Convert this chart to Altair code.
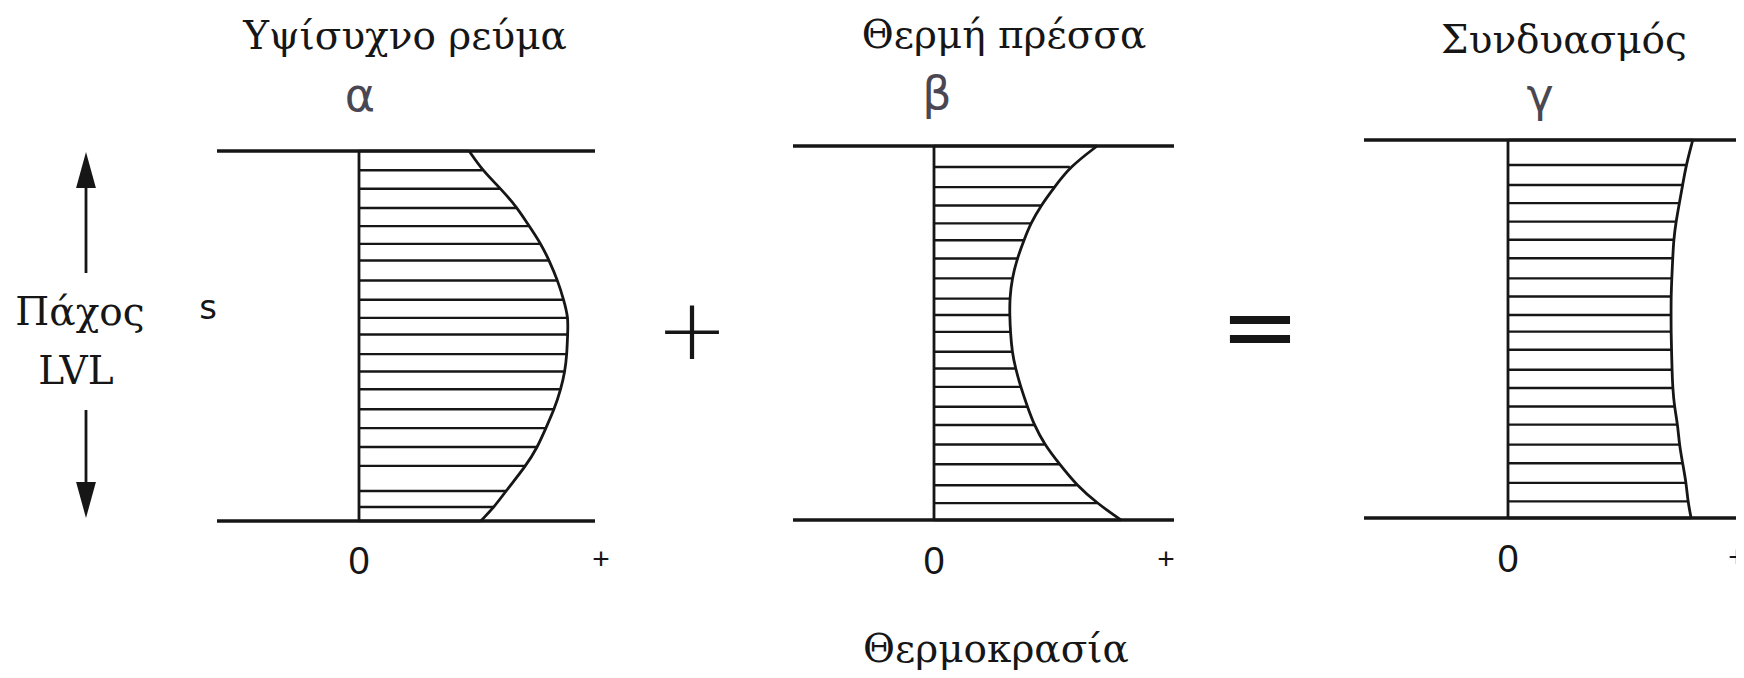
import altair as alt
import pandas as pd

# ---------------- content ----------------
panel_titles = ["Υψίσυχνο ρεύμα", "Θερμή πρέσσα", "Συνδυασμός"]
panel_letters = ["α", "β", "γ"]
tick_labels = ["0", "+"]
x_axis_title = "Θερμοκρασία"
y_axis_title = ["Πάχος", "LVL"]
y_symbol = "s"
operators = ["+", "="]

# thickness position of every hatch line (1 = top face, 0 = bottom face)
thick_a = [1.0, 0.948, 0.898, 0.846, 0.797, 0.749, 0.704, 0.650, 0.598, 0.549, 0.504,
           0.451, 0.404, 0.356, 0.302, 0.251, 0.200, 0.149, 0.081, 0.038, 0.0]
thick_b = [1.0, 0.944, 0.890, 0.841, 0.793, 0.748, 0.699, 0.646, 0.592, 0.548, 0.503,
           0.450, 0.405, 0.356, 0.303, 0.254, 0.202, 0.149, 0.093, 0.045, 0.0]
thick_c = [1.0, 0.934, 0.881, 0.833, 0.784, 0.736, 0.687, 0.634, 0.586, 0.537, 0.493,
           0.445, 0.392, 0.344, 0.295, 0.247, 0.194, 0.145, 0.093, 0.044, 0.0]

# temperature at each hatch line (0 = "0" mark, 1 = "+" mark)
temp_a = [0.455, 0.510, 0.586, 0.655, 0.703, 0.752, 0.786, 0.821, 0.846, 0.865, 0.862,
          0.859, 0.851, 0.834, 0.807, 0.772, 0.738, 0.690, 0.607, 0.559, 0.503]
temp_b = [0.700, 0.583, 0.517, 0.459, 0.415, 0.386, 0.357, 0.335, 0.325, 0.325, 0.328,
          0.335, 0.350, 0.372, 0.401, 0.430, 0.474, 0.539, 0.612, 0.700, 0.802]
temp_c = [0.783, 0.755, 0.740, 0.726, 0.712, 0.702, 0.698, 0.694, 0.691, 0.691, 0.691,
          0.693, 0.695, 0.698, 0.705, 0.719, 0.726, 0.740, 0.755, 0.762, 0.776]

# ---------------- layout (page pixels) ----------------
W, H, M = 1728, 662, 8
panels = [
    dict(zero=359, unit=242, top=151, bottom=521, left=217, right=595, plus=601,
         tx=405, ty=37, lx=360, ly=97, zy=563, thick=thick_a, temp=temp_a),
    dict(zero=934, unit=233, top=146, bottom=520, left=793, right=1174, plus=1166,
         tx=1004, ty=36, lx=937, ly=95, zy=563, thick=thick_b, temp=temp_b),
    dict(zero=1508, unit=236, top=140, bottom=518, left=1364, right=1760, plus=1737,
         tx=1564, ty=41, lx=1540, ly=97, zy=561, thick=thick_c, temp=temp_c),
]
INK = "#161616"
PENCIL = "#4a4753"
SERIF = "DejaVu Serif"

hatch, curve, faces, zeros, texts = [], [], [], [], []
for k, p in enumerate(panels):
    for i, (t, v) in enumerate(zip(p["thick"], p["temp"])):
        y = p["bottom"] - t * (p["bottom"] - p["top"]) - M
        x0 = p["zero"] - M
        x1 = p["zero"] + v * p["unit"] - M
        hatch.append(dict(x=x0, x2=x1, y=y))
        curve.append(dict(panel=k, i=i, x=x1, y=y))
    for yy in (p["top"], p["bottom"]):
        faces.append(dict(x=p["left"] - M, x2=p["right"] - M, y=yy - M))
    zeros.append(dict(x=p["zero"] - M, y=p["top"] - M, y2=p["bottom"] - M))
    texts.append(dict(x=p["tx"] - M, y=p["ty"] - M, t=panel_titles[k], kind="title"))
    texts.append(dict(x=p["lx"] - M, y=p["ly"] - M, t=panel_letters[k], kind="letter"))
    texts.append(dict(x=p["zero"] - M, y=p["zy"] - M, t=tick_labels[0], kind="zero"))
    texts.append(dict(x=p["plus"] - M, y=p["zy"] - 3 - M, t=tick_labels[1], kind="plus"))

texts.append(dict(x=996 - M, y=650 - M, t=x_axis_title, kind="title"))
texts.append(dict(x=80 - M, y=313 - M, t=y_axis_title[0], kind="title"))
texts.append(dict(x=76 - M, y=372 - M, t=y_axis_title[1], kind="title"))
texts.append(dict(x=208 - M, y=309 - M, t=y_symbol, kind="sym"))
texts.append(dict(x=692 - M, y=333 - M, t=operators[0], kind="op"))
texts.append(dict(x=1260 - M, y=331 - M, t=operators[1], kind="eq"))

xs = alt.Scale(domain=[0, W], nice=False, zero=False)
ys = alt.Scale(domain=[0, H], nice=False, zero=False, reverse=True)
X = lambda f="x": alt.X(f"{f}:Q", scale=xs, axis=None)
Y = lambda f="y": alt.Y(f"{f}:Q", scale=ys, axis=None)

hatch_layer = alt.Chart(pd.DataFrame(hatch)).mark_rule(color=INK, strokeWidth=2.4).encode(
    x=X(), x2="x2:Q", y=Y())
face_layer = alt.Chart(pd.DataFrame(faces)).mark_rule(color=INK, strokeWidth=3.4).encode(
    x=X(), x2="x2:Q", y=Y())
zero_layer = alt.Chart(pd.DataFrame(zeros)).mark_rule(color=INK, strokeWidth=2.8).encode(
    x=X(), y=Y(), y2="y2:Q")
curve_layer = alt.Chart(pd.DataFrame(curve)).mark_line(
    color=INK, strokeWidth=2.8, interpolate="basis").encode(
    x=X(), y=Y(), detail="panel:N", order="i:Q")

# thickness arrow
arrow_shaft = pd.DataFrame([dict(x=86 - M, y=175 - M, y2=273 - M),
                            dict(x=86 - M, y=410 - M, y2=495 - M)])
arrow_heads = pd.DataFrame([dict(x=86 - M, y=170 - M, dir="up"),
                            dict(x=86 - M, y=500 - M, dir="down")])
shaft_layer = alt.Chart(arrow_shaft).mark_rule(color=INK, strokeWidth=2.8).encode(
    x=X(), y=Y(), y2="y2:Q")
head_up = alt.Chart(arrow_heads[arrow_heads.dir == "up"]).mark_point(
    shape="M-0.55,1L0,-1L0.55,1Z", filled=True, color=INK, size=1300, opacity=1).encode(x=X(), y=Y())
head_down = alt.Chart(arrow_heads[arrow_heads.dir == "down"]).mark_point(
    shape="M-0.55,-1L0,1L0.55,-1Z", filled=True, color=INK, size=1300, opacity=1).encode(x=X(), y=Y())

tdf = pd.DataFrame(texts)
def text_layer(kind, **kw):
    return alt.Chart(tdf[tdf.kind == kind]).mark_text(
        align="center", baseline="middle", **kw).encode(x=X(), y=Y(), text="t:N")

layers = [
    face_layer, hatch_layer, zero_layer, curve_layer, shaft_layer, head_up, head_down,
    text_layer("title", font=SERIF, fontSize=39, color=INK),
    text_layer("letter", font="DejaVu Sans", fontSize=46, color=PENCIL),
    text_layer("zero", font="Liberation Sans", fontSize=38, color=INK),
    text_layer("plus", font="Liberation Sans", fontSize=30, color=INK),
    text_layer("sym", font="DejaVu Sans", fontSize=34, color=INK),
    text_layer("op", font="DejaVu Sans", fontSize=86, fontWeight=300, color=INK),
    text_layer("eq", font="DejaVu Sans", fontSize=96, color=INK),
]

chart = alt.layer(*layers).properties(
    width=W, height=H, padding=0, autosize=alt.AutoSizeParams(type="none"),
    background="white"
).configure_view(strokeWidth=0)

chart.save("out.html", embed_options={"renderer": "svg", "actions": False})
